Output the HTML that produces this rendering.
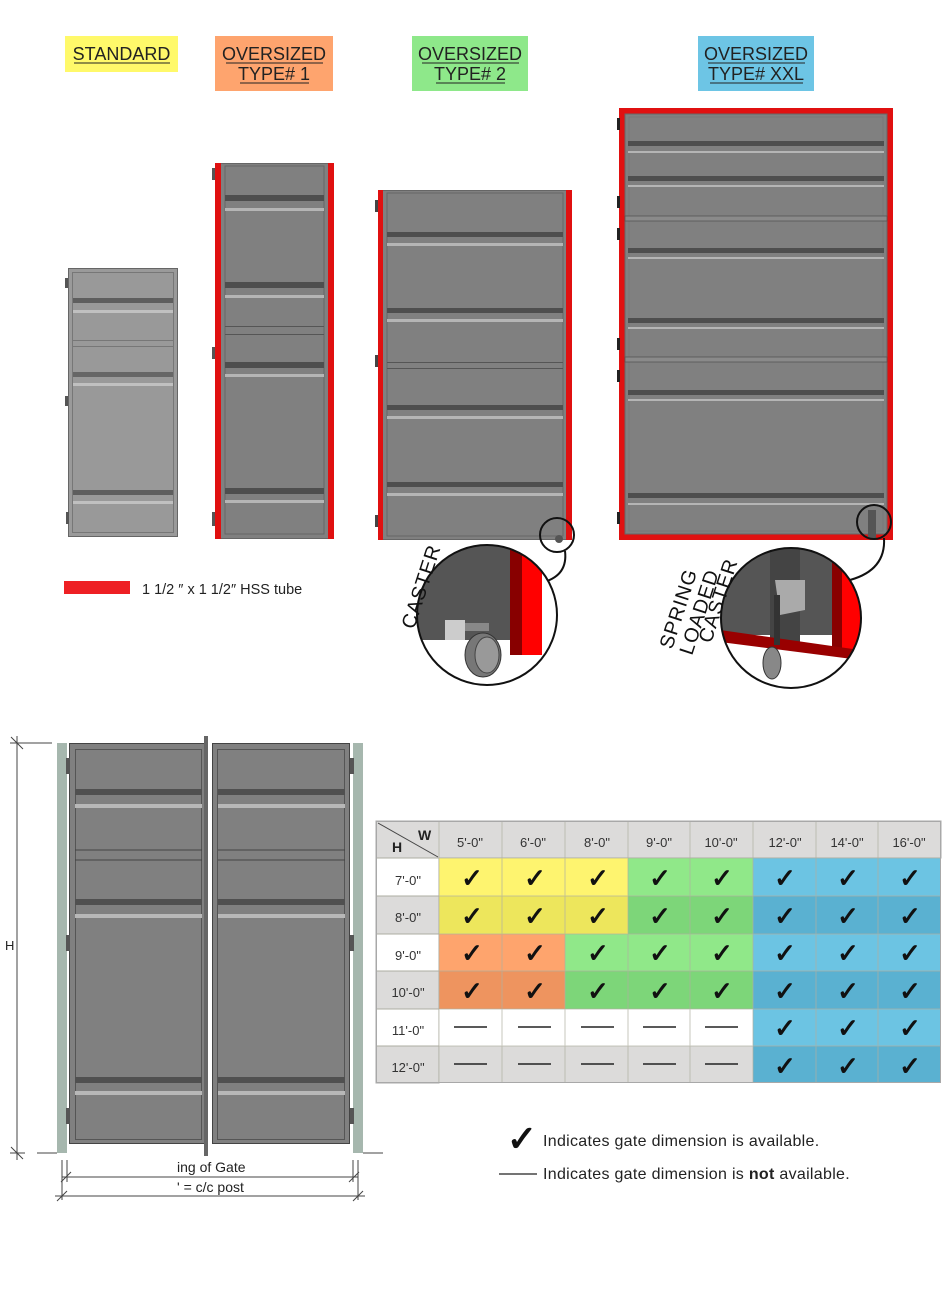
<!DOCTYPE html>
<html><head><meta charset="utf-8"><style>
html,body{margin:0;padding:0;background:#fff;}
svg{display:block;font-family:"Liberation Sans",sans-serif;}
</style></head><body>
<svg width="950" height="1303" viewBox="0 0 950 1303" xmlns="http://www.w3.org/2000/svg">
<!-- Labels -->
<rect x="65" y="36" width="113" height="36" fill="#fff96a"/>
<text x="121.5" y="60" font-size="18" text-anchor="middle" fill="#222">STANDARD</text>
<line x1="74" y1="63" x2="170" y2="63" stroke="#222" stroke-width="1"/>
<rect x="215" y="36" width="118" height="55" fill="#fea46e"/>
<text x="274" y="60" font-size="18" text-anchor="middle" fill="#222">OVERSIZED</text>
<line x1="226" y1="63" x2="323" y2="63" stroke="#222"/>
<text x="274" y="80" font-size="18" text-anchor="middle" fill="#222">TYPE# 1</text>
<line x1="240" y1="83" x2="309" y2="83" stroke="#222"/>
<rect x="412" y="36" width="116" height="55" fill="#8ee88a"/>
<text x="470" y="60" font-size="18" text-anchor="middle" fill="#222">OVERSIZED</text>
<line x1="422" y1="63" x2="519" y2="63" stroke="#222"/>
<text x="470" y="80" font-size="18" text-anchor="middle" fill="#222">TYPE# 2</text>
<line x1="436" y1="83" x2="505" y2="83" stroke="#222"/>
<rect x="698" y="36" width="116" height="55" fill="#6dc5e5"/>
<text x="756" y="60" font-size="18" text-anchor="middle" fill="#222">OVERSIZED</text>
<line x1="708" y1="63" x2="805" y2="63" stroke="#222"/>
<text x="756" y="80" font-size="18" text-anchor="middle" fill="#222">TYPE# XXL</text>
<line x1="710" y1="83" x2="803" y2="83" stroke="#222"/>

<!-- Standard gate -->
<g stroke="#666" stroke-width="1">
<rect x="68.5" y="268.5" width="109" height="268" fill="#9a9a9a"/>
<rect x="72.5" y="272.5" width="101" height="260" fill="#999" stroke="#777"/>
</g>
<g>
<rect x="73" y="298" width="100" height="5" fill="#5e5e5e"/><rect x="73" y="310" width="100" height="3" fill="#c0c0c0"/>
<rect x="73" y="340" width="100" height="1" fill="#777"/><rect x="73" y="346" width="100" height="1" fill="#777"/>
<rect x="73" y="372" width="100" height="5" fill="#666"/><rect x="73" y="383" width="100" height="3" fill="#c0c0c0"/>
<rect x="73" y="490" width="100" height="5" fill="#5e5e5e"/><rect x="73" y="501" width="100" height="3" fill="#c0c0c0"/>
<rect x="65" y="278" width="3" height="10" fill="#555"/><rect x="65" y="396" width="3" height="10" fill="#555"/><rect x="66" y="512" width="3" height="12" fill="#555"/>
</g>

<!-- Type 1 gate -->
<rect x="215.5" y="163.5" width="118" height="375" fill="#808080" stroke="#666"/>
<rect x="215" y="163" width="6" height="376" fill="#e01010"/>
<rect x="328" y="163" width="6" height="376" fill="#e01010"/>
<rect x="225" y="166" width="99" height="368" fill="#808080" stroke="#666"/>
<rect x="225" y="195" width="99" height="6" fill="#4e4e4e"/><rect x="225" y="208" width="99" height="3" fill="#b5b5b5"/>
<rect x="225" y="282" width="99" height="6" fill="#4e4e4e"/><rect x="225" y="295" width="99" height="3" fill="#b5b5b5"/>
<rect x="225" y="326" width="99" height="1" fill="#555"/><rect x="225" y="334" width="99" height="1" fill="#555"/>
<rect x="225" y="362" width="99" height="6" fill="#4e4e4e"/><rect x="225" y="374" width="99" height="3" fill="#b5b5b5"/>
<rect x="225" y="488" width="99" height="6" fill="#4e4e4e"/><rect x="225" y="500" width="99" height="3" fill="#b5b5b5"/>
<rect x="212" y="168" width="3" height="12" fill="#555"/><rect x="212" y="347" width="3" height="12" fill="#555"/><rect x="212" y="512" width="3" height="14" fill="#555"/>

<!-- Type 2 gate -->
<rect x="378.5" y="190.5" width="193" height="349" fill="#808080" stroke="#666"/>
<rect x="378" y="190" width="5" height="350" fill="#e01010"/>
<rect x="566" y="190" width="6" height="350" fill="#e01010"/>
<rect x="387" y="193" width="176" height="343" fill="#808080" stroke="#666"/>
<rect x="387" y="232" width="176" height="5" fill="#4e4e4e"/><rect x="387" y="243" width="176" height="3" fill="#b5b5b5"/>
<rect x="387" y="308" width="176" height="5" fill="#4e4e4e"/><rect x="387" y="319" width="176" height="3" fill="#b5b5b5"/>
<rect x="387" y="362" width="176" height="1" fill="#555"/><rect x="387" y="368" width="176" height="1" fill="#555"/>
<rect x="387" y="405" width="176" height="5" fill="#4e4e4e"/><rect x="387" y="416" width="176" height="3" fill="#b5b5b5"/>
<rect x="387" y="482" width="176" height="5" fill="#4e4e4e"/><rect x="387" y="493" width="176" height="3" fill="#b5b5b5"/>
<rect x="375" y="200" width="3" height="12" fill="#444"/><rect x="375" y="355" width="3" height="12" fill="#444"/><rect x="375" y="515" width="3" height="12" fill="#444"/>
<circle cx="557" cy="535" r="17" fill="none" stroke="#111" stroke-width="2"/>
<circle cx="559" cy="539" r="4" fill="#555"/>
<path d="M565 551 Q568 575 544 582" fill="none" stroke="#111" stroke-width="2"/>

<!-- XXL gate -->
<rect x="619" y="108" width="274" height="432" fill="#e01010"/>
<rect x="625" y="114" width="262" height="420" fill="#808080" stroke="#666"/>
<rect x="629" y="117" width="254" height="414" fill="#808080" stroke="#777"/>
<g fill="#4e4e4e">
<rect x="628" y="141" width="256" height="5"/><rect x="628" y="176" width="256" height="5"/>
<rect x="628" y="248" width="256" height="5"/><rect x="628" y="318" width="256" height="5"/>
<rect x="628" y="390" width="256" height="5"/><rect x="628" y="493" width="256" height="5"/>
</g>
<g fill="#b5b5b5">
<rect x="628" y="151" width="256" height="2"/><rect x="628" y="185" width="256" height="2"/>
<rect x="628" y="257" width="256" height="2"/><rect x="628" y="327" width="256" height="2"/>
<rect x="628" y="399" width="256" height="2"/><rect x="628" y="503" width="256" height="2"/>
</g>
<rect x="625" y="216" width="262" height="5" fill="#8a8a8a" stroke="#555" stroke-width="0.8"/>
<rect x="625" y="357" width="262" height="5" fill="#8a8a8a" stroke="#555" stroke-width="0.8"/>
<g fill="#222"><rect x="617" y="118" width="3" height="12"/><rect x="617" y="196" width="3" height="12"/><rect x="617" y="228" width="3" height="12"/><rect x="617" y="338" width="3" height="12"/><rect x="617" y="370" width="3" height="12"/><rect x="617" y="512" width="3" height="12"/></g>
<rect x="868" y="510" width="8" height="28" fill="#555"/>
<circle cx="874" cy="522" r="17" fill="none" stroke="#111" stroke-width="2"/>
<path d="M884 538 Q886 570 850 580" fill="none" stroke="#111" stroke-width="2"/>

<!-- Caster zoom -->
<clipPath id="c1"><circle cx="487" cy="615" r="70"/></clipPath>
<g clip-path="url(#c1)">
<rect x="410" y="540" width="160" height="150" fill="#fff"/>
<rect x="410" y="540" width="100" height="100" fill="#555"/>
<rect x="445" y="620" width="20" height="20" fill="#ccc"/>
<rect x="510" y="540" width="12" height="115" fill="#800"/>
<rect x="522" y="540" width="20" height="115" fill="#f00"/>
<ellipse cx="483" cy="655" rx="18" ry="22" fill="#777" stroke="#333"/>
<ellipse cx="487" cy="655" rx="12" ry="18" fill="#999" stroke="#444"/>
<rect x="465" y="623" width="24" height="8" fill="#888"/>
</g>
<circle cx="487" cy="615" r="70" fill="none" stroke="#111" stroke-width="2"/>
<text transform="translate(414,630) rotate(-72)" font-size="20" fill="#111" letter-spacing="1">CASTER</text>

<!-- Spring loaded zoom -->
<clipPath id="c2"><circle cx="791" cy="618" r="70"/></clipPath>
<g clip-path="url(#c2)">
<rect x="720" y="545" width="145" height="145" fill="#fff"/>
<rect x="720" y="545" width="125" height="90" fill="#555"/>
<rect x="770" y="548" width="30" height="95" fill="#444"/>
<path d="M775 580 L805 580 L805 610 L780 615Z" fill="#aaa"/>
<rect x="832" y="545" width="10" height="110" fill="#800"/>
<rect x="842" y="545" width="20" height="110" fill="#f00"/>
<polygon points="720,630 860,650 860,660 720,642" fill="#900"/>
<rect x="774" y="595" width="6" height="50" fill="#333"/>
<ellipse cx="772" cy="663" rx="9" ry="16" fill="#888" stroke="#333"/>
</g>
<circle cx="791" cy="618" r="70" fill="none" stroke="#111" stroke-width="2"/>
<text transform="translate(672,650) rotate(-72)" font-size="20" fill="#111" letter-spacing="1">SPRING</text>
<text transform="translate(692,656) rotate(-72)" font-size="20" fill="#111" letter-spacing="1">LOADED</text>
<text transform="translate(711,644) rotate(-72)" font-size="20" fill="#111" letter-spacing="1">CASTER</text>

<!-- HSS legend -->
<rect x="64" y="581" width="66" height="13" fill="#ee2024"/>
<text x="142" y="594" font-size="14.5" fill="#222">1 1/2 ″ x 1 1/2″ HSS tube</text>

<!-- Double gate -->
<rect x="57" y="743" width="10" height="410" fill="#a6b7ae"/>
<rect x="353" y="743" width="10" height="410" fill="#a6b7ae"/>
<g stroke="#444" stroke-width="1">
<rect x="69.5" y="743.5" width="137" height="400" fill="#808080"/>
<rect x="212.5" y="743.5" width="137" height="400" fill="#808080"/>
<rect x="75.5" y="749.5" width="126" height="390" fill="#808080" stroke="#555"/>
<rect x="217.5" y="749.5" width="127" height="390" fill="#808080" stroke="#555"/>
</g>
<g fill="#505050">
<rect x="75" y="789" width="127" height="6"/><rect x="218" y="789" width="127" height="6"/>
<rect x="75" y="899" width="127" height="6"/><rect x="218" y="899" width="127" height="6"/>
<rect x="75" y="1077" width="127" height="6"/><rect x="218" y="1077" width="127" height="6"/>
</g>
<g fill="#b8b8b8">
<rect x="75" y="804" width="127" height="4"/><rect x="218" y="804" width="127" height="4"/>
<rect x="75" y="914" width="127" height="4"/><rect x="218" y="914" width="127" height="4"/>
<rect x="75" y="1091" width="127" height="4"/><rect x="218" y="1091" width="127" height="4"/>
</g>
<g stroke="#444" fill="none">
<line x1="75" y1="850" x2="202" y2="850"/><line x1="218" y1="850" x2="345" y2="850"/>
<line x1="75" y1="860" x2="202" y2="860"/><line x1="218" y1="860" x2="345" y2="860"/>
</g>
<rect x="204" y="736" width="4" height="420" fill="#666"/>
<rect x="66" y="758" width="4" height="16" fill="#555"/><rect x="66" y="935" width="4" height="16" fill="#555"/><rect x="66" y="1108" width="4" height="16" fill="#555"/>
<rect x="350" y="758" width="4" height="16" fill="#555"/><rect x="350" y="935" width="4" height="16" fill="#555"/><rect x="350" y="1108" width="4" height="16" fill="#555"/>
<!-- dimensions -->
<g stroke="#444" stroke-width="1">
<line x1="10" y1="743" x2="52" y2="743"/>
<line x1="17" y1="736" x2="17" y2="1160"/>
<line x1="10" y1="1153" x2="25" y2="1153"/>
<line x1="37" y1="1153" x2="57" y2="1153"/>
<line x1="363" y1="1153" x2="383" y2="1153"/>
<line x1="11" y1="737" x2="23" y2="749"/>
<line x1="11" y1="1147" x2="23" y2="1159"/>
<line x1="62" y1="1160" x2="62" y2="1200"/>
<line x1="67" y1="1160" x2="67" y2="1182"/>
<line x1="353" y1="1160" x2="353" y2="1182"/>
<line x1="358" y1="1160" x2="358" y2="1200"/>
<line x1="62" y1="1177" x2="358" y2="1177"/>
<line x1="55" y1="1196" x2="365" y2="1196"/>
<line x1="61" y1="1182" x2="71" y2="1172"/><line x1="349" y1="1182" x2="359" y2="1172"/>
<line x1="57" y1="1201" x2="67" y2="1191"/><line x1="353" y1="1201" x2="363" y2="1191"/>
</g>
<text x="5" y="950" font-size="13" fill="#222">H</text>
<text x="177" y="1172" font-size="14" fill="#222">ing of Gate</text>
<text x="177" y="1192" font-size="14" fill="#222">' = c/c post</text>

<!-- Table -->
<g stroke="#a8a8a8" stroke-width="1">
<rect x="376" y="821" width="565" height="37" fill="#dcdbda"/>
<rect x="376" y="858" width="63" height="38" fill="#fff"/>
<rect x="376" y="896" width="63" height="38" fill="#dcdbda"/>
<rect x="376" y="934" width="63" height="37" fill="#fff"/>
<rect x="376" y="971" width="63" height="38" fill="#dcdbda"/>
<rect x="376" y="1009" width="63" height="37" fill="#fff"/>
<rect x="376" y="1046" width="63" height="37" fill="#dcdbda"/>
</g>
<rect x="439" y="858" width="189" height="38" fill="#fef46f"/>
<rect x="439" y="896" width="189" height="38" fill="#ede65c"/>
<rect x="628" y="858" width="125" height="38" fill="#90e889"/>
<rect x="628" y="896" width="125" height="38" fill="#7dd679"/>
<rect x="439" y="934" width="126" height="37" fill="#fea46d"/>
<rect x="439" y="971" width="126" height="38" fill="#ee945f"/>
<rect x="565" y="934" width="188" height="37" fill="#90e889"/>
<rect x="565" y="971" width="188" height="38" fill="#7dd679"/>
<rect x="439" y="1009" width="314" height="37" fill="#fff"/>
<rect x="439" y="1046" width="314" height="37" fill="#dcdbda"/>
<rect x="753" y="858" width="188" height="38" fill="#6cc4e3"/>
<rect x="753" y="896" width="188" height="38" fill="#5ab1d1"/>
<rect x="753" y="934" width="188" height="37" fill="#6cc4e3"/>
<rect x="753" y="971" width="188" height="38" fill="#5ab1d1"/>
<rect x="753" y="1009" width="188" height="37" fill="#6cc4e3"/>
<rect x="753" y="1046" width="188" height="37" fill="#5ab1d1"/>
<g stroke="#b0b0a0" stroke-width="1" opacity="0.7">
<line x1="502" y1="821" x2="502" y2="1083"/><line x1="565" y1="821" x2="565" y2="1083"/>
<line x1="628" y1="821" x2="628" y2="1083"/><line x1="690" y1="821" x2="690" y2="1083"/>
<line x1="439" y1="821" x2="439" y2="1083"/><line x1="753" y1="821" x2="753" y2="1083"/>
<line x1="816" y1="821" x2="816" y2="1083"/><line x1="878" y1="821" x2="878" y2="1083"/>
<line x1="376" y1="858" x2="941" y2="858"/><line x1="376" y1="896" x2="941" y2="896"/>
<line x1="376" y1="934" x2="941" y2="934"/><line x1="376" y1="971" x2="941" y2="971"/>
<line x1="376" y1="1009" x2="941" y2="1009"/><line x1="376" y1="1046" x2="941" y2="1046"/>
</g>
<rect x="376.5" y="821.5" width="564" height="261" fill="none" stroke="#a8a8a8"/>
<line x1="378" y1="823" x2="438" y2="857" stroke="#444"/>
<text x="418" y="840" font-size="14" font-weight="bold" fill="#222">W</text>
<text x="392" y="852" font-size="14" font-weight="bold" fill="#222">H</text>
<g font-size="13" fill="#333" text-anchor="middle">
<text x="470" y="847">5'-0"</text><text x="533" y="847">6'-0"</text><text x="597" y="847">8'-0"</text>
<text x="659" y="847">9'-0"</text><text x="721" y="847">10'-0"</text><text x="785" y="847">12'-0"</text>
<text x="847" y="847">14'-0"</text><text x="909" y="847">16'-0"</text>
<text x="408" y="885">7'-0"</text><text x="408" y="922">8'-0"</text><text x="408" y="960">9'-0"</text>
<text x="408" y="997">10'-0"</text><text x="408" y="1035">11'-0"</text><text x="408" y="1072">12'-0"</text>
</g>
<g font-size="26" font-weight="bold" fill="#111" text-anchor="middle">
<text x="472" y="887">✓</text><text x="535" y="887">✓</text><text x="598" y="887">✓</text><text x="660" y="887">✓</text><text x="722" y="887">✓</text><text x="785" y="887">✓</text><text x="848" y="887">✓</text><text x="910" y="887">✓</text>
<text x="472" y="925">✓</text><text x="535" y="925">✓</text><text x="598" y="925">✓</text><text x="660" y="925">✓</text><text x="722" y="925">✓</text><text x="785" y="925">✓</text><text x="848" y="925">✓</text><text x="910" y="925">✓</text>
<text x="472" y="962">✓</text><text x="535" y="962">✓</text><text x="598" y="962">✓</text><text x="660" y="962">✓</text><text x="722" y="962">✓</text><text x="785" y="962">✓</text><text x="848" y="962">✓</text><text x="910" y="962">✓</text>
<text x="472" y="1000">✓</text><text x="535" y="1000">✓</text><text x="598" y="1000">✓</text><text x="660" y="1000">✓</text><text x="722" y="1000">✓</text><text x="785" y="1000">✓</text><text x="848" y="1000">✓</text><text x="910" y="1000">✓</text>
<text x="785" y="1037">✓</text><text x="848" y="1037">✓</text><text x="910" y="1037">✓</text>
<text x="785" y="1075">✓</text><text x="848" y="1075">✓</text><text x="910" y="1075">✓</text>
</g>
<g stroke="#222" stroke-width="1.5">
<line x1="454" y1="1027" x2="487" y2="1027"/><line x1="518" y1="1027" x2="551" y2="1027"/><line x1="581" y1="1027" x2="614" y2="1027"/><line x1="643" y1="1027" x2="676" y2="1027"/><line x1="705" y1="1027" x2="738" y2="1027"/>
<line x1="454" y1="1064" x2="487" y2="1064"/><line x1="518" y1="1064" x2="551" y2="1064"/><line x1="581" y1="1064" x2="614" y2="1064"/><line x1="643" y1="1064" x2="676" y2="1064"/><line x1="705" y1="1064" x2="738" y2="1064"/>
</g>
<!-- table legend -->
<text x="522" y="1151" font-size="36" font-weight="bold" fill="#111" text-anchor="middle">✓</text>
<text x="543" y="1146" font-size="16" letter-spacing="0.3" fill="#222">Indicates gate dimension is available.</text>
<line x1="499" y1="1174" x2="537" y2="1174" stroke="#222" stroke-width="1.3"/>
<text x="543" y="1179" font-size="16" letter-spacing="0.3" fill="#222">Indicates gate dimension is <tspan font-weight="bold">not</tspan> available.</text>
</svg>
</body></html>
